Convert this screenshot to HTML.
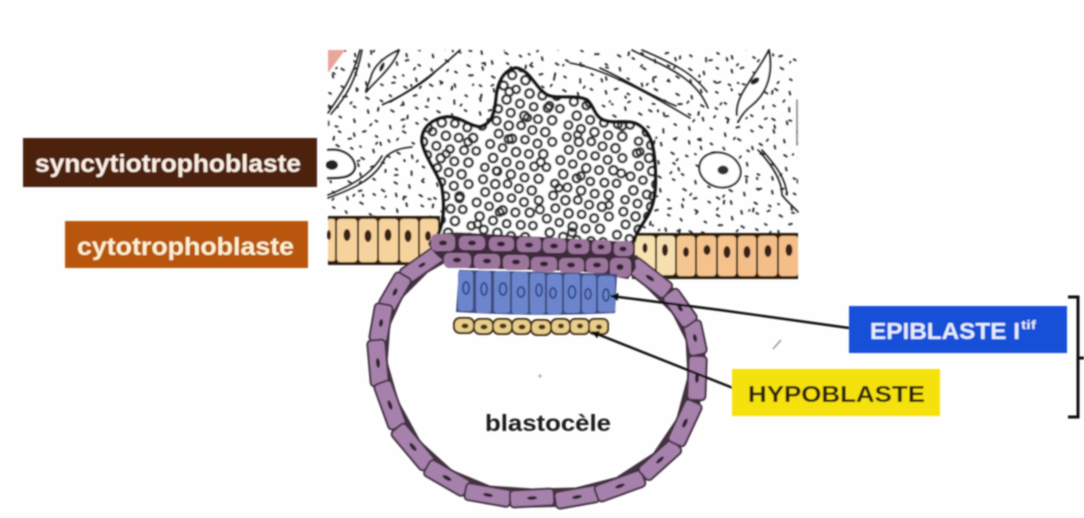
<!DOCTYPE html>
<html><head><meta charset="utf-8"><style>
html,body{margin:0;padding:0;background:#fefefe}
svg{display:block}
text{font-family:"Liberation Sans",sans-serif;font-weight:bold}
</style></head><body>
<svg xmlns="http://www.w3.org/2000/svg" width="1084" height="518" viewBox="0 0 1084 518">
<defs>
<pattern id="st1" width="97" height="83" patternUnits="userSpaceOnUse" patternTransform="rotate(31)">
<path fill="none" stroke="#333" stroke-width="2" stroke-linecap="round" d="M4 6h2M17 3l2 1M31 9h3M45 4l2 2M60 8h2M74 3l2 2M88 9l2-2M9 19l2 2M24 17h3M38 24h2M53 18l2 3M67 21h2M81 15l2 2M93 23h1M3 32h3M16 35l2-2M30 30l1 2M44 36h3M58 31l2 2M72 34h3M86 29h2M10 46l2 2M24 44h2M37 49h3M51 45l2 2M65 48l2 2M79 42h2M92 47h2M4 59h3M18 62l2-2M32 57h2M46 64h3M60 58l2 2M73 61h3M87 56h2M11 73l2 2M25 71h3M39 76h2M53 72l3-2M67 75h2M81 71l2 2M93 76h2"/>
</pattern>
<pattern id="st2" width="71" height="59" patternUnits="userSpaceOnUse" patternTransform="rotate(-52)">
<path fill="none" stroke="#222" stroke-width="1.800" stroke-linecap="round" d="M11 12h1M34 6l2 2M58 15h2M22 27l2 1M47 31h2M6 42h2M36 47l1 2M63 45h2"/>
</pattern>
<pattern id="st3" width="71" height="59" patternUnits="userSpaceOnUse" patternTransform="rotate(74) scale(1.300)">
<path fill="none" stroke="#222" stroke-width="1.500" stroke-linecap="round" d="M8 9h1M30 18l2 1M55 6h2M18 38l2 1M44 44h2M62 30h1"/>
</pattern>
<pattern id="rings" width="72" height="60" patternUnits="userSpaceOnUse" patternTransform="rotate(13)">
<g fill="none" stroke="#2a2a2a" stroke-width="2.500">
<circle cx="7" cy="6" r="4"/><circle cx="20" cy="8" r="4.200"/><circle cx="32" cy="5" r="3.800"/><circle cx="44" cy="7" r="4"/><circle cx="57" cy="6" r="4.200"/><circle cx="66" cy="14" r="4"/>
<circle cx="12" cy="18" r="4"/><circle cx="26" cy="20" r="4.200"/><circle cx="39" cy="18" r="3.800"/><circle cx="52" cy="19" r="4"/>
<circle cx="6" cy="30" r="4"/><circle cx="19" cy="31" r="3.800"/><circle cx="33" cy="32" r="4.200"/><circle cx="46" cy="31" r="4"/><circle cx="60" cy="28" r="4.200"/>
<circle cx="12" cy="43" r="4.200"/><circle cx="26" cy="44" r="4"/><circle cx="40" cy="44" r="3.800"/><circle cx="54" cy="42" r="4"/><circle cx="66" cy="40" r="3.800"/>
<circle cx="6" cy="54" r="3.800"/><circle cx="19" cy="55" r="4"/><circle cx="33" cy="55" r="4.200"/><circle cx="47" cy="55" r="4"/><circle cx="61" cy="53" r="4.200"/>
</g>
</pattern>
<pattern id="rings2" width="89" height="77" patternUnits="userSpaceOnUse" patternTransform="rotate(-24)">
<g fill="none" stroke="#2a2a2a" stroke-width="2.400">
<circle cx="14" cy="12" r="3.800"/><circle cx="52" cy="26" r="4"/><circle cx="28" cy="50" r="3.600"/><circle cx="72" cy="60" r="4"/><circle cx="78" cy="14" r="3.600"/>
</g>
</pattern>
<filter id="soft" x="-2%" y="-2%" width="104%" height="104%"><feGaussianBlur stdDeviation="0.8"/></filter>
<marker id="ah" viewBox="0 0 10 10" refX="9" refY="5" markerWidth="9" markerHeight="8" markerUnits="userSpaceOnUse" orient="auto"><path d="M0 0L10 5L0 10z" fill="#111"/></marker>
</defs>

<g filter="url(#soft)">
<rect x="328" y="50" width="470" height="190" fill="url(#st1)"/>
<rect x="328" y="50" width="470" height="190" fill="url(#st2)"/>
<rect x="328" y="50" width="470" height="190" fill="url(#st3)"/>
<path d="M328 50H345L328 73z" fill="#e8a59a"/>

<g fill="none" stroke="#1f1f1f" stroke-width="1.600" stroke-linecap="round" stroke-linejoin="round">
<path d="M328 113C340 95 352 80 360 50M331 114C345 98 356 82 362 50"/>
<path d="M366 92C378 78 392 68 399 50C386 56 376 64 372 74C370 82 366 88 366 92z" fill="#fff" stroke-width="2"/>
<path d="M384 104C405 95 430 78 460 50M390 102C408 92 425 82 435 72"/>
<path d="M328 150C345 148 355 158 355 168C352 178 340 178 328 178" stroke-width="2.200" fill="#fff"/>
<path d="M328 198C350 190 375 180 385 158C392 150 402 148 412 147M328 195C350 186 370 176 382 156"/>
<path d="M570 63C600 68 640 88 690 118M600 68C630 82 655 98 676 106"/>
<path d="M632 50C660 65 695 75 708 108M642 50C670 62 692 72 707 92"/>
<path d="M737 115C735 95 755 78 769 50C773 72 768 92 752 105C743 112 740 118 738 122" fill="#fff" stroke-width="2"/>
<ellipse cx="720" cy="170" rx="21" ry="17" transform="rotate(18 720 170)" fill="#fff" stroke-width="2"/>
<path d="M758 150C772 165 782 180 782 195C788 203 795 208 798 212M762 150C778 168 786 180 787 195"/>
<path d="M797 100V145" stroke="#888"/>
</g>
<ellipse cx="332" cy="165" rx="6" ry="5" fill="#222"/>
<ellipse cx="723" cy="170" rx="5.500" ry="4.500" fill="#333"/>
<ellipse cx="755" cy="81" rx="5" ry="2.800" transform="rotate(-35 755 81)" fill="#222"/>
<ellipse cx="382" cy="67" rx="2" ry="5" transform="rotate(25 382 67)" fill="#222"/>

<!-- cytotrophoblast -->
<rect x="328" y="216" width="112" height="49" fill="#2c1b10"/>
<rect x="632" y="233" width="166" height="46" fill="#2c1b10"/>
<g fill="#f6d29c">
<rect x="328" y="219" width="7" height="42" rx="2"/><rect x="337" y="219" width="20" height="43" rx="3"/><rect x="359" y="219" width="18" height="43" rx="3"/><rect x="379" y="219" width="19" height="43" rx="3"/><rect x="400" y="219" width="18" height="43" rx="3"/><rect x="420" y="219" width="18" height="42" rx="3"/>
<rect x="635" y="236" width="20" height="39" rx="3" fill="#f7e2b2"/><rect x="657" y="236" width="18" height="39" rx="3" fill="#f7e0b0"/><rect x="677" y="236" width="18" height="40" rx="3" fill="#f5c690"/><rect x="697" y="236" width="19" height="40" rx="3" fill="#f5c28c"/><rect x="718" y="236" width="18" height="40" rx="3" fill="#f5c28c"/><rect x="738" y="236" width="18" height="40" rx="3" fill="#f4be88"/><rect x="758" y="236" width="19" height="40" rx="3" fill="#f4be88"/><rect x="779" y="236" width="19" height="40" rx="3" fill="#f4be88"/>
</g>
<g fill="#3a2414">
<ellipse cx="329" cy="235" rx="2" ry="5"/><ellipse cx="347" cy="235" rx="3.500" ry="6"/><ellipse cx="368" cy="236" rx="3.500" ry="6"/><ellipse cx="388" cy="235" rx="3.500" ry="6"/><ellipse cx="408" cy="236" rx="3.500" ry="6"/><ellipse cx="428" cy="236" rx="3" ry="5"/>
<ellipse cx="645" cy="248" rx="2.500" ry="5"/><ellipse cx="665" cy="250" rx="3" ry="6"/><ellipse cx="686" cy="252" rx="3" ry="5"/><ellipse cx="707" cy="250" rx="3.500" ry="5"/><ellipse cx="727" cy="252" rx="3.500" ry="6"/><ellipse cx="747" cy="252" rx="3.500" ry="6"/><ellipse cx="768" cy="251" rx="3.500" ry="6"/><ellipse cx="789" cy="250" rx="3.500" ry="6"/>
</g>

<!-- syncytium -->
<path d="M438 235C444 222 445 205 442 187C438 172 426 160 422 142C421 128 432 119 446 117C460 116 468 126 480 127C490 124 494 118 496 100C497 84 503 70 516 68C530 70 535 88 547 95C558 100 575 94 587 100C594 106 594 116 603 120C615 125 630 118 640 126C652 134 654 150 655 165C656 185 656 200 648 215C642 225 636 232 634 242z" fill="#fff"/>
<path d="M438 235C444 222 445 205 442 187C438 172 426 160 422 142C421 128 432 119 446 117C460 116 468 126 480 127C490 124 494 118 496 100C497 84 503 70 516 68C530 70 535 88 547 95C558 100 575 94 587 100C594 106 594 116 603 120C615 125 630 118 640 126C652 134 654 150 655 165C656 185 656 200 648 215C642 225 636 232 634 242z" fill="url(#rings)"/>
<path d="M438 235C444 222 445 205 442 187C438 172 426 160 422 142C421 128 432 119 446 117C460 116 468 126 480 127C490 124 494 118 496 100C497 84 503 70 516 68C530 70 535 88 547 95C558 100 575 94 587 100C594 106 594 116 603 120C615 125 630 118 640 126C652 134 654 150 655 165C656 185 656 200 648 215C642 225 636 232 634 242z" fill="url(#rings2)"/>
<path d="M438 235C444 222 445 205 442 187C438 172 426 160 422 142C421 128 432 119 446 117C460 116 468 126 480 127C490 124 494 118 496 100C497 84 503 70 516 68C530 70 535 88 547 95C558 100 575 94 587 100C594 106 594 116 603 120C615 125 630 118 640 126C652 134 654 150 655 165C656 185 656 200 648 215C642 225 636 232 634 242" fill="none" stroke="#161616" stroke-width="3.500"/>

<!-- blastocyst wall -->
<path d="M445 252L422 265L395 292L381 323L378 363L390 405L413 447L447 478L488 495L532 498L577 497L620 486L660 460L685 423L697 378L695 338L680 308L650 278L630 262" fill="none" stroke="#43303f" stroke-width="19" stroke-linejoin="round"/>
<g fill="#a681ac" stroke="#43303f" stroke-width="2">
<rect x="-23" y="-8.500" width="46" height="17" rx="4" transform="translate(422 265) rotate(-35)"/>
<rect x="-19" y="-9" width="38" height="18" rx="4" transform="translate(395 292) rotate(-60)"/>
<rect x="-19" y="-9" width="38" height="18" rx="4" transform="translate(381 323) rotate(-80)"/>
<rect x="-23" y="-9" width="46" height="18" rx="4" transform="translate(378 363) rotate(85)"/>
<rect x="-24" y="-9" width="48" height="18" rx="4" transform="translate(390 405) rotate(70)"/>
<rect x="-25" y="-9" width="50" height="18" rx="4" transform="translate(413 447) rotate(50)"/>
<rect x="-23" y="-9" width="46" height="18" rx="4" transform="translate(447 478) rotate(30)"/>
<rect x="-23" y="-8.500" width="46" height="17" rx="4" transform="translate(488 495) rotate(10)"/>
<rect x="-22" y="-8.500" width="44" height="17" rx="4" transform="translate(532 498) rotate(-3)"/>
<rect x="-22" y="-8.500" width="44" height="17" rx="4" transform="translate(577 497) rotate(-10)"/>
<rect x="-25" y="-8.500" width="50" height="17" rx="4" transform="translate(620 486) rotate(-20)"/>
<rect x="-23" y="-8.500" width="46" height="17" rx="4" transform="translate(660 460) rotate(-42)"/>
<rect x="-23" y="-9" width="46" height="18" rx="4" transform="translate(685 423) rotate(-65)"/>
<rect x="-22" y="-9" width="44" height="18" rx="4" transform="translate(697 378) rotate(-88)"/>
<rect x="-17" y="-9" width="34" height="18" rx="4" transform="translate(695 338) rotate(78)"/>
<rect x="-19" y="-9" width="38" height="18" rx="4" transform="translate(680 308) rotate(55)"/>
<rect x="-23" y="-9" width="46" height="18" rx="4" transform="translate(650 278) rotate(38)"/>
</g>
<g fill="#33242f">
<ellipse rx="4" ry="1.800" transform="translate(422 265) rotate(-30)"/><ellipse rx="4" ry="2" transform="translate(395 292) rotate(-65)"/><ellipse rx="4" ry="2" transform="translate(381 323) rotate(-80)"/><ellipse rx="5" ry="2" transform="translate(378 363) rotate(85)"/><ellipse rx="5" ry="2" transform="translate(390 405) rotate(70)"/><ellipse rx="5" ry="2" transform="translate(413 447) rotate(50)"/><ellipse rx="5" ry="2" transform="translate(447 478) rotate(30)"/><ellipse rx="5" ry="1.800" transform="translate(488 495) rotate(10)"/><ellipse rx="5" ry="1.800" transform="translate(532 498) rotate(-3)"/><ellipse rx="5" ry="1.800" transform="translate(577 497) rotate(-10)"/><ellipse rx="5" ry="1.800" transform="translate(620 486) rotate(-20)"/><ellipse rx="5" ry="1.800" transform="translate(660 460) rotate(-42)"/><ellipse rx="5" ry="2" transform="translate(685 423) rotate(-65)"/><ellipse rx="5" ry="2" transform="translate(697 378) rotate(-88)"/><ellipse rx="4" ry="2" transform="translate(695 338) rotate(78)"/><ellipse rx="4" ry="2" transform="translate(680 308) rotate(55)"/><ellipse rx="5" ry="2" transform="translate(650 278) rotate(35)"/>
</g>

<!-- top two rows -->
<path d="M428 244C432 234 445 231 470 233L633 242L636 268L628 279L580 271L470 268C450 268 436 258 428 244z" fill="#3d2b3a"/>
<g fill="#9b749c">
<rect x="431" y="234" width="24" height="17" rx="5"/><rect x="459" y="236" width="26" height="14" rx="5"/><rect x="489" y="237" width="25" height="14" rx="5"/><rect x="517" y="237" width="24" height="15" rx="5"/><rect x="543" y="238" width="23" height="15" rx="5"/><rect x="568" y="239" width="21" height="15" rx="5"/><rect x="592" y="240" width="19" height="14" rx="5"/><rect x="614" y="241" width="19" height="15" rx="5"/>
<rect x="444" y="253" width="27" height="15" rx="5"/><rect x="474" y="254" width="26" height="15" rx="5"/><rect x="503" y="255" width="26" height="15" rx="5"/><rect x="531" y="257" width="26" height="15" rx="5"/><rect x="559" y="258" width="25" height="15" rx="5"/><rect x="586" y="258" width="22" height="15" rx="5"/><rect x="610" y="258" width="21" height="19" rx="5"/>
</g>
<g fill="#33242f">
<ellipse cx="443" cy="243" rx="4" ry="2.500"/><ellipse cx="472" cy="243" rx="4" ry="2.500"/><ellipse cx="501" cy="244" rx="4" ry="2.500"/><ellipse cx="529" cy="245" rx="4" ry="2.500"/><ellipse cx="554" cy="246" rx="4" ry="2.500"/><ellipse cx="578" cy="246" rx="4" ry="2.500"/><ellipse cx="601" cy="247" rx="3.500" ry="2.500"/><ellipse cx="623" cy="249" rx="3.500" ry="2.500"/>
<ellipse cx="457" cy="260" rx="4" ry="2.500"/><ellipse cx="487" cy="261" rx="4" ry="2.500"/><ellipse cx="516" cy="262" rx="4" ry="2.500"/><ellipse cx="544" cy="264" rx="4" ry="2.500"/><ellipse cx="571" cy="265" rx="4" ry="2.500"/><ellipse cx="597" cy="265" rx="4" ry="2.500"/><ellipse cx="620" cy="267" rx="3.500" ry="3"/>
</g>

<!-- epiblast -->
<path d="M459 270L617 274L615 313Q535 317 456 312z" fill="#3d4a7a"/>
<g fill="#6c85cd">
<rect x="458" y="271" width="15" height="40" rx="3"/><rect x="476" y="271" width="15" height="42" rx="3"/><rect x="494" y="271" width="16" height="42" rx="3"/><rect x="512" y="272" width="16" height="42" rx="3"/><rect x="530" y="273" width="15" height="41" rx="3"/><rect x="547" y="274" width="15" height="40" rx="3"/><rect x="564" y="274" width="16" height="39" rx="3"/><rect x="582" y="275" width="14" height="38" rx="3"/><rect x="598" y="276" width="17" height="36" rx="3"/>
</g>
<g fill="none" stroke="#2c4684" stroke-width="1.800">
<ellipse cx="466" cy="288" rx="3" ry="6"/><ellipse cx="484" cy="289" rx="3" ry="6"/><ellipse cx="503" cy="289" rx="3.500" ry="6"/><ellipse cx="521" cy="292" rx="3.500" ry="5"/><ellipse cx="539" cy="290" rx="3" ry="6"/><ellipse cx="553" cy="293" rx="3" ry="5"/><ellipse cx="572" cy="292" rx="3.500" ry="6"/><ellipse cx="588" cy="294" rx="3" ry="5"/><ellipse cx="606" cy="295" rx="3" ry="6"/>
</g>

<!-- hypoblast -->
<g fill="#e9cd8b" stroke="#3a2c12" stroke-width="2">
<rect x="454" y="318" width="20" height="15" rx="6"/><rect x="474" y="319" width="19" height="15" rx="6"/><rect x="493" y="319" width="19" height="15" rx="6"/><rect x="512" y="319" width="19" height="15" rx="6"/><rect x="531" y="320" width="20" height="15" rx="6"/><rect x="551" y="319" width="19" height="15" rx="6"/><rect x="570" y="319" width="19" height="15" rx="5"/><rect x="589" y="319" width="19" height="15" rx="5"/>
</g>
<g fill="#4a3815">
<ellipse cx="465" cy="326" rx="3.500" ry="2.500"/><ellipse cx="484" cy="327" rx="3.500" ry="2.500"/><ellipse cx="503" cy="326" rx="3.500" ry="2.500"/><ellipse cx="522" cy="327" rx="3.500" ry="2.500"/><ellipse cx="542" cy="327" rx="3.500" ry="2.500"/><ellipse cx="561" cy="326" rx="3" ry="2.500"/><ellipse cx="580" cy="326" rx="3" ry="2.500"/><ellipse cx="599" cy="327" rx="3" ry="2.500"/>
</g>

<!-- arrows -->
<path d="M849 328L720 310L611 296" fill="none" stroke="#111" stroke-width="2.400" marker-end="url(#ah)"/>
<path d="M733 388L592 332" fill="none" stroke="#111" stroke-width="2.400" marker-end="url(#ah)"/>
<path d="M773 349L781 340" stroke="#999" stroke-width="1.500"/>
<circle cx="540" cy="376" r="1.500" fill="#aaa"/>

<!-- bracket -->
<path d="M1068 297H1078V417H1068M1078 358H1084" fill="none" stroke="#111" stroke-width="3"/>

<!-- label boxes -->
<rect x="23" y="138" width="294" height="49" fill="#4e2208"/>
<rect x="65" y="221" width="243" height="47" fill="#b9560b"/>
<rect x="849" y="306" width="218" height="47" fill="#1450d8"/>
<rect x="732" y="369" width="208" height="47" fill="#f5e10f"/>

<text x="35" y="172" font-size="25" fill="#fbeee4" textLength="266" lengthAdjust="spacingAndGlyphs">syncytiotrophoblaste</text>
<text x="77" y="255" font-size="25" fill="#fdf0cf" textLength="217" lengthAdjust="spacingAndGlyphs">cytotrophoblaste</text>
<text x="870" y="339" font-size="23" fill="#e4edfb" textLength="150" lengthAdjust="spacingAndGlyphs">EPIBLASTE I</text>
<text x="1021" y="329" font-size="12" fill="#e4edfb" textLength="15" lengthAdjust="spacingAndGlyphs">tif</text>
<text x="748" y="402" font-size="23" fill="#2a2208" textLength="177" lengthAdjust="spacingAndGlyphs">HYPOBLASTE</text>
<text x="485" y="431" font-size="23" fill="#1f1f1f" textLength="126" lengthAdjust="spacingAndGlyphs">blastocèle</text>
</g>
</svg>
</body></html>
